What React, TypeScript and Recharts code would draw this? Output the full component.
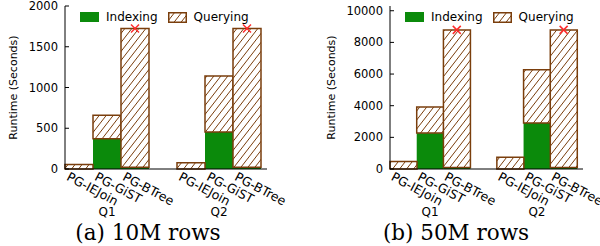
import { ComposedChart, Bar, Line, XAxis, YAxis, Legend } from 'recharts';

// bars per query, in plotting order
const methods = ['PG-IEJoin', 'PG-GiST', 'PG-BTree'];
const queries = ['Q1', 'Q2'];

// 10M rows (seconds), order: Q1 x methods, then Q2 x methods
const indexing10M = [0, 370, 20, 0, 453, 20];
const querying10M = [55, 288, 1705, 78, 687, 1705];

// 50M rows (seconds)
const indexing50M = [0, 2270, 100, 0, 2900, 100];
const querying50M = [480, 1640, 8690, 750, 3365, 8690];

// runs that hit the time limit (red cross on top)
const timedOut = [false, false, true, false, false, true];

const yTicks10M = [0, 500, 1000, 1500, 2000];
const yTicks50M = [0, 2000, 4000, 6000, 8000, 10000];

const GREEN = '#0b8a0b';
const BROWN = '#7a3e0c';
const FONT = '"DejaVu Sans", sans-serif';

type Row = {
  key: string;
  method: string;
  query: string;
  indexing: number | null;
  querying: number | null;
  timeout: number | null;
};

function buildRows(indexing: number[], querying: number[]): Row[] {
  const rows: Row[] = [];
  queries.forEach((q, qi) => {
    if (qi > 0) {
      rows.push({ key: `gap${qi}`, method: '', query: '', indexing: null, querying: null, timeout: null });
    }
    methods.forEach((m, mi) => {
      const i = qi * methods.length + mi;
      rows.push({
        key: `${q}-${m}`,
        method: m,
        query: mi === 1 ? q : '',
        indexing: indexing[i],
        querying: querying[i],
        timeout: timedOut[i] ? indexing[i] + querying[i] : null,
      });
    });
  });
  return rows;
}

function MethodTick({ x, y, payload, rows }: any) {
  const row = rows.find((r: Row) => r.key === payload.value);
  if (!row || !row.method) return <g />;
  const tx = x - 13.2;
  const ty = y + 10.6;
  return (
    <g>
      <text x={tx} y={ty} transform={`rotate(28, ${tx}, ${ty})`} fontSize={12.5} fontFamily={FONT} fill="#000">
        {row.method}
      </text>
      {row.query && (
        <text x={x} y={y + 47} textAnchor="middle" fontSize={12} fontFamily={FONT} fill="#000">
          {row.query}
        </text>
      )}
    </g>
  );
}

function TimeoutCross(props: any) {
  const { cx, cy, value, index } = props;
  if (value == null || cy == null || Number.isNaN(cy)) return <g key={`t${index}`} />;
  const s = 4;
  return (
    <g key={`t${index}`} stroke="#ff2a2a" strokeWidth={1.5}>
      <line x1={cx - s} y1={cy - s} x2={cx + s} y2={cy + s} />
      <line x1={cx - s} y1={cy + s} x2={cx + s} y2={cy - s} />
    </g>
  );
}

function HatchSwatch() {
  return (
    <svg width={19} height={11} style={{ display: 'block' }}>
      <rect x={0.75} y={0.75} width={17.5} height={9.5} fill="url(#hatch)" stroke={BROWN} strokeWidth={1.5} />
    </svg>
  );
}

function LegendBox() {
  return (
    <div style={{ display: 'flex', alignItems: 'center', fontFamily: FONT, fontSize: 12, color: '#000', whiteSpace: 'nowrap' }}>
      <div style={{ width: 19, height: 10, background: GREEN }} />
      <span style={{ marginLeft: 7, marginRight: 10 }}>Indexing</span>
      <HatchSwatch />
      <span style={{ marginLeft: 7 }}>Querying</span>
    </div>
  );
}

function AxisTitle({ cx }: { cx: number }) {
  const cy = 87.5;
  return (
    <text x={cx} y={cy} transform={`rotate(-90, ${cx}, ${cy})`} textAnchor="middle" dominantBaseline="central" fontSize={11} fontFamily={FONT} fill="#000">
      Runtime (Seconds)
    </text>
  );
}

type PanelProps = {
  indexing: number[];
  querying: number[];
  yMax: number;
  yTicks: number[];
  yAxisWidth: number;
  rightMargin: number;
  titleX: number;
  legendLeft: number;
};

function Panel({ indexing, querying, yMax, yTicks, yAxisWidth, rightMargin, titleX, legendLeft }: PanelProps) {
  const rows = buildRows(indexing, querying);
  const barKeys = rows.filter((r) => r.method).map((r) => r.key);
  return (
    <ComposedChart width={300} height={225} data={rows} margin={{ top: 6, right: rightMargin, bottom: 0, left: 0 }} barCategoryGap={0} barGap={0}>
      <XAxis
        dataKey="key"
        height={56}
        interval={0}
        tickLine={false}
        tickSize={0}
        tickMargin={0}
        padding={{ left: 0, right: 6 }}
        axisLine={{ stroke: '#000' }}
        tick={(p: any) => <MethodTick {...p} rows={rows} />}
      />
      <XAxis
        xAxisId="top"
        orientation="top"
        dataKey="key"
        height={0}
        interval={0}
        ticks={barKeys}
        tick={false}
        tickSize={-4}
        padding={{ left: 0, right: 6 }}
        axisLine={{ stroke: '#000' }}
        tickLine={{ stroke: '#000' }}
      />
      <YAxis
        width={yAxisWidth}
        domain={[0, yMax]}
        ticks={yTicks}
        interval={0}
        tickSize={-4}
        tickMargin={11}
        axisLine={{ stroke: '#000' }}
        tickLine={{ stroke: '#000' }}
        tick={{ fill: '#000', fontSize: 11.5, fontFamily: FONT }}
        label={<AxisTitle cx={titleX} />}
      />
      <YAxis
        yAxisId="right"
        orientation="right"
        width={0}
        domain={[0, yMax]}
        ticks={yTicks}
        interval={0}
        tick={false}
        tickSize={-4}
        axisLine={{ stroke: '#000' }}
        tickLine={{ stroke: '#000' }}
      />
      <Legend
        layout="horizontal"
        verticalAlign="middle"
        align="center"
        wrapperStyle={{ top: 10, left: legendLeft, width: 200, height: 14 }}
        content={() => <LegendBox />}
      />
      <Bar dataKey="indexing" stackId="a" fill={GREEN} isAnimationActive={false} />
      <Bar dataKey="querying" stackId="a" fill="url(#hatch)" stroke={BROWN} strokeWidth={1.5} isAnimationActive={false} />
      <Line
        xAxisId="top"
        yAxisId="right"
        dataKey="timeout"
        stroke="none"
        dot={TimeoutCross}
        activeDot={false}
        legendType="none"
        isAnimationActive={false}
      />
    </ComposedChart>
  );
}

export default function App() {
  return (
    <div style={{ position: 'absolute', left: 0, top: 0, width: 600, height: 246, background: '#fff', overflow: 'hidden' }}>
      <svg width={0} height={0} style={{ position: 'absolute' }}>
        <defs>
          <pattern id="hatch" patternUnits="userSpaceOnUse" width={7} height={9}>
            <rect width={7} height={9} fill="#fff" />
            <line x1={0} y1={9} x2={7} y2={0} stroke={BROWN} strokeWidth={1} />
            <line x1={-7} y1={9} x2={0} y2={0} stroke={BROWN} strokeWidth={1} />
            <line x1={7} y1={9} x2={14} y2={0} stroke={BROWN} strokeWidth={1} />
          </pattern>
        </defs>
      </svg>
      <div style={{ position: 'absolute', left: 0, top: 0 }}>
        <Panel indexing={indexing10M} querying={querying10M} yMax={2000} yTicks={yTicks10M} yAxisWidth={65} rightMargin={33} titleX={13} legendLeft={80} />
      </div>
      <div style={{ position: 'absolute', left: 300, top: 0 }}>
        <Panel indexing={indexing50M} querying={querying50M} yMax={10300} yTicks={yTicks50M} yAxisWidth={90} rightMargin={17} titleX={31} legendLeft={105} />
      </div>
      <svg width={600} height={246} style={{ position: 'absolute', left: 0, top: 0, pointerEvents: 'none' }}>
        <text x={148} y={240} textAnchor="middle" fontSize={21.5} fontFamily='"DejaVu Serif", serif' fill="#000">
          (a) 10M rows
        </text>
        <text x={456} y={240} textAnchor="middle" fontSize={21.5} fontFamily='"DejaVu Serif", serif' fill="#000">
          (b) 50M rows
        </text>
      </svg>
    </div>
  );
}
